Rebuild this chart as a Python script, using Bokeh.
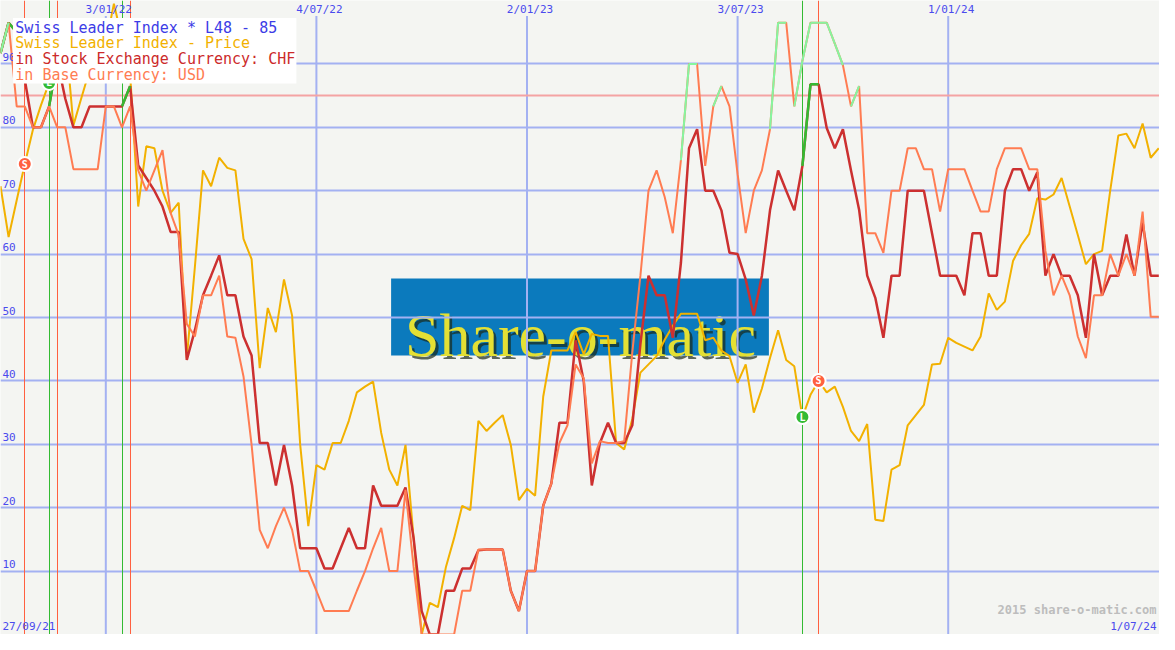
import pandas as pd
from bokeh.plotting import figure
from bokeh.models import Range1d, Label, BoxAnnotation
from bokeh.embed import file_html
from bokeh.resources import INLINE
from bokeh.core.properties import value

# ---------------- data (weekly) ----------------
start_date = "2021-10-04"

price = [70.7, 62.7, 68.5, 74.2, 79.6, 83.5, 87.0, 92.0, 95.0, 80.3,
         84.7, 89.0, 92.0, 93.0, 99.5, 94.0, 88.5, 67.5, 77.0, 76.7,
         70.0, 66.5, 68.1, 43.6, 58.0, 73.2, 70.7, 75.2, 73.6, 73.2,
         62.4, 59.2, 42.0, 51.5, 47.7, 56.0, 50.3, 29.9, 17.1, 26.7,
         26.0, 30.2, 30.2, 33.7, 38.2, 39.1, 39.9, 31.8, 26.0, 23.5,
         29.9, 15.2, 0.0, 5.0, 4.3, 10.7, 15.2, 20.3, 19.6, 33.7,
         32.1, 33.4, 34.6, 29.9, 21.2, 23.0, 21.9, 37.5, 44.8, 44.8,
         44.8, 47.7, 44.2, 47.4, 47.1, 47.1, 30.2, 29.2, 34.0, 41.3,
         42.6, 43.9, 46.5, 48.7, 50.6, 50.6, 50.6, 46.4, 46.8, 44.8,
         43.9, 39.7, 42.6, 35.0, 38.8, 43.6, 48.0, 43.3, 42.3, 34.3,
         37.8, 40.0, 38.2, 39.1, 35.9, 32.1, 30.5, 33.2, 18.1, 17.9,
         26.0, 26.7, 33.0, 34.6, 36.2, 42.6, 42.7, 46.8, 46.0, 45.4,
         44.8, 47.0, 53.8, 51.2, 52.5, 58.9, 61.4, 63.2, 68.8, 68.6,
         69.4, 72.0, 67.5, 63.0, 58.4, 60.0, 60.5, 70.0, 78.7, 79.0,
         76.7, 80.6, 75.2, 76.7]

chf = [91.7, 96.5, 95.0, 87.5, 80.0, 80.0, 83.3, 90.5, 84.5, 80.0,
       80.0, 83.3, 83.3, 83.3, 83.3, 83.3, 86.5, 74.0, 72.0, 70.0,
       67.5, 63.5, 63.5, 43.3, 48.0, 53.5, 56.6, 59.8, 53.5, 53.5,
       47.0, 44.0, 30.2, 30.2, 23.5, 29.9, 23.5, 13.6, 13.6, 13.6,
       10.4, 10.4, 13.6, 16.8, 13.6, 13.6, 23.5, 20.3, 20.3, 20.3,
       23.2, 15.2, 3.7, 0.0, 0.0, 6.9, 6.9, 10.4, 10.4, 13.3,
       13.4, 13.4, 13.4, 6.9, 3.7, 10.0, 10.0, 20.3, 23.8, 33.4,
       33.4, 46.4, 40.0, 23.5, 30.2, 33.4, 30.2, 30.2, 33.0, 45.8,
       56.6, 53.5, 53.5, 46.8, 58.6, 76.7, 79.7, 70.0, 70.0, 66.9,
       60.2, 60.0, 56.0, 50.3, 56.6, 66.9, 73.2, 70.0, 66.9, 73.9,
       86.8, 86.8, 79.9, 76.7, 79.7, 73.2, 67.0, 56.6, 53.1, 46.8,
       56.6, 56.6, 70.0, 70.0, 70.0, 63.3, 56.6, 56.6, 56.6, 53.5,
       63.3, 63.3, 56.6, 56.6, 70.0, 73.4, 73.4, 70.0, 72.9, 56.6,
       60.0, 56.6, 56.6, 53.5, 46.8, 60.0, 53.5, 56.6, 56.6, 63.1,
       56.6, 65.0, 56.6, 56.6]

usd = [91.7, 96.5, 83.3, 83.3, 80.0, 80.0, 83.3, 80.0, 80.0, 73.4,
       73.4, 73.4, 73.4, 83.3, 83.3, 80.0, 83.3, 73.2, 70.0, 73.2,
       76.4, 66.5, 63.0, 49.0, 47.0, 53.5, 53.5, 56.6, 47.0, 46.8,
       40.7, 29.9, 16.5, 13.6, 17.1, 20.0, 16.5, 10.0, 10.0, 6.9,
       3.7, 3.7, 3.7, 3.7, 6.9, 10.0, 13.6, 16.8, 10.0, 10.0,
       22.8, 10.7, 0.0, 0.0, 0.0, 0.0, 0.0, 6.9, 6.9, 13.4,
       13.4, 13.4, 13.4, 6.9, 3.7, 10.0, 10.0, 20.3, 23.8, 30.2,
       33.0, 42.6, 40.4, 27.0, 30.5, 30.2, 30.2, 30.5, 44.5, 56.6,
       70.0, 73.2, 69.0, 63.3, 74.8, 90.0, 90.0, 73.9, 83.3, 86.5,
       83.3, 72.6, 63.3, 70.0, 73.2, 79.7, 96.5, 96.5, 83.3, 90.5,
       96.5, 96.5, 96.5, 93.2, 89.8, 83.3, 86.5, 63.3, 63.3, 60.2,
       70.0, 70.0, 76.7, 76.7, 73.4, 73.4, 66.7, 73.4, 73.4, 73.4,
       70.0, 66.7, 66.7, 73.4, 76.7, 76.7, 76.7, 73.4, 73.4, 60.5,
       53.5, 56.6, 53.5, 47.0, 43.6, 53.5, 53.5, 60.0, 56.6, 60.0,
       56.6, 66.7, 50.1, 50.1]

threshold = 85
long_weeks = [6, 15, 99]
short_weeks = [3, 7, 16, 101]

y_ticks = [10, 20, 30, 40, 50, 60, 70, 80, 90]
x_tick_dates = ["2022-01-03", "2022-07-04", "2023-01-02", "2023-07-03", "2024-01-01"]
x_tick_labels = ["3/01/22", "4/07/22", "2/01/23", "3/07/23", "1/01/24"]
first_label = "27/09/21"
last_label = "1/07/24"
credit = "2015 share-o-matic.com"
logo_text = "Share-o-matic"
legend_texts = ["Swiss Leader Index * L48 - 85",
                "Swiss Leader Index - Price",
                "in Stock Exchange Currency: CHF",
                "in Base Currency: USD"]

# ---------------- style ----------------
BG = "#f4f5f2"
GRID = "#a3b1f2"
THR = "#f4a3a3"
ORANGE = "#f2b100"
DARKRED = "#cc3030"
SALMON = "#ff7c52"
GREEN = "#33bb33"
LIGHTGREEN = "#86f6a0"
SIGRED = "#ff6040"
LABEL_BLUE = "#4a4aee"
LOGO_BLUE = "#0b7abd"
MONO = "DejaVu Sans Mono"
legend_colors = ["#3c3ce6", ORANGE, "#cc2a2a", "#ff7c52"]

REF_W, REF_H = 1175, 650
W, H = 1159, 634

dates = pd.date_range(start_date, periods=len(price), freq="7D")
xs = [d.value / 1e6 for d in dates]
t0 = xs[0]
ms_per_px = (xs[-1] - xs[0]) / 1174.3
t_end = t0 + REF_W * ms_per_px


def X(px):
    return t0 + px * ms_per_px


def Y(py):
    return (REF_H - py) / 6.5


p = figure(width=W, height=H, x_axis_type="datetime",
           x_range=Range1d(t0, t_end), y_range=Range1d(0, 100),
           output_backend="svg", toolbar_location=None,
           x_axis_location=None, y_axis_location=None,
           min_border=0, background_fill_color=BG, border_fill_color=BG,
           outline_line_color=None)
p.grid.visible = False

# logo (background)
p.quad(left=[X(396)], right=[X(779)], top=[Y(285)], bottom=[Y(364)],
       fill_color=LOGO_BLUE, line_color=None)
p.text(x=[X(413)], y=[Y(346)], text=[logo_text], text_font=value("Liberation Serif"),
       text_font_size=value("62px"), text_color="#1a2a1a", text_alpha=0.7,
       text_baseline="alphabetic", text_align="left")
p.text(x=[X(410)], y=[Y(343)], text=[logo_text], text_font=value("Liberation Serif"),
       text_font_size=value("62px"), text_color="#e4e034",
       text_baseline="alphabetic", text_align="left")

# grid
p.hspan(y=y_ticks, line_color=GRID, line_width=2)
tx = [pd.Timestamp(d).value / 1e6 for d in x_tick_dates]
p.segment(x0=tx, y0=[0] * len(tx), x1=tx, y1=[Y(16)] * len(tx), line_color=GRID, line_width=2)
p.hspan(y=[threshold], line_color=THR, line_width=2)

# signal lines
p.vspan(x=[xs[i] for i in long_weeks], line_color=GREEN, line_width=1)
p.vspan(x=[xs[i] for i in short_weeks], line_color=SIGRED, line_width=1)

# series
p.line(xs, price, line_color=ORANGE, line_width=2)
p.line(xs, chf, line_color=DARKRED, line_width=2.5)
gi = [i for i in range(len(chf) - 1) if chf[i + 1] > threshold]
p.segment(x0=[xs[i] for i in gi], y0=[chf[i] for i in gi],
          x1=[xs[i + 1] for i in gi], y1=[chf[i + 1] for i in gi],
          line_color=GREEN, line_width=2.5)
p.line(xs, usd, line_color=SALMON, line_width=2)
ui = [i for i in range(len(usd) - 1) if usd[i + 1] > threshold]
p.segment(x0=[xs[i] for i in ui], y0=[usd[i] for i in ui],
          x1=[xs[i + 1] for i in ui], y1=[usd[i + 1] for i in ui],
          line_color=LIGHTGREEN, line_width=2)

# signal markers on the price line
for weeks, col, letter in ((long_weeks, GREEN, "L"), (short_weeks, SIGRED, "S")):
    mx = [xs[i] for i in weeks]
    my = [price[i] for i in weeks]
    p.scatter(mx, my, marker="circle", size=14, fill_color=col, line_color="white", line_width=2)
    p.text(x=mx, y=my, text=[letter] * len(weeks), text_font=value(MONO),
           text_font_size=value("10px"), text_font_style="bold", text_color="white",
           text_align="center", text_baseline="middle")

# tick labels
p.text(x=[X(2)] * len(y_ticks), y=[v + 0.45 for v in y_ticks], text=[str(v) for v in y_ticks],
       text_font=value(MONO), text_font_size=value("11px"), text_color=LABEL_BLUE,
       text_align="left", text_baseline="bottom")
p.text(x=[t + 3 * ms_per_px for t in tx], y=[Y(9)] * len(tx), text=x_tick_labels,
       text_font=value(MONO), text_font_size=value("11px"), text_color=LABEL_BLUE,
       text_align="center", text_baseline="middle")
p.add_layout(Label(x=X(2), y=Y(642), text=first_label, text_font=MONO, text_font_size="11px",
                   text_color=LABEL_BLUE, text_align="left", text_baseline="middle"))
p.add_layout(Label(x=X(1172), y=Y(642), text=last_label, text_font=MONO, text_font_size="11px",
                   text_color=LABEL_BLUE, text_align="right", text_baseline="middle"))
p.add_layout(Label(x=X(1172), y=Y(625), text=credit, text_font=MONO, text_font_size="12px",
                   text_font_style="bold", text_color="#bdbdbd", text_align="right",
                   text_baseline="middle"))

# legend box
p.add_layout(BoxAnnotation(left=X(12.7), right=X(300), top=Y(18), bottom=Y(85),
                           fill_color="white", fill_alpha=1.0, line_alpha=0))
for k, (txt, col) in enumerate(zip(legend_texts, legend_colors)):
    p.add_layout(Label(x=X(15), y=Y(28 + 16 * k), text=txt, text_font=MONO,
                       text_font_size="15px", text_color=col, text_align="left",
                       text_baseline="middle"))

open("out.html", "w").write(file_html(p, INLINE))
